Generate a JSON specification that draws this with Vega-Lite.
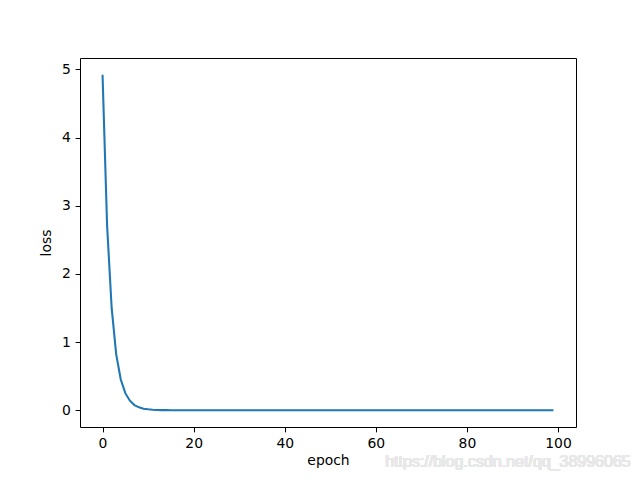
{
  "$schema": "https://vega.github.io/schema/vega-lite/v6.json",
  "width": 496,
  "height": 369,
  "autosize": "none",
  "padding": {"left": 80, "top": 58, "right": 64, "bottom": 53},
  "background": "white",
  "config": {
    "view": {"stroke": "black", "strokeWidth": 1},
    "font": "DejaVu Sans",
    "axis": {
      "grid": false,
      "domain": false,
      "tickColor": "black",
      "tickSize": 4.86,
      "tickWidth": 1,
      "labelFont": "DejaVu Sans",
      "labelFontSize": 13.9,
      "labelColor": "black",
      "labelPadding": 4.86,
      "titleFont": "DejaVu Sans",
      "titleFontSize": 13.9,
      "titleFontWeight": "normal",
      "titleColor": "black"
    }
  },
  "data": {
    "values": [
      {"epoch": 0, "loss": 4.92}, {"epoch": 1, "loss": 2.71}, {"epoch": 2, "loss": 1.5}, {"epoch": 3, "loss": 0.82},
      {"epoch": 4, "loss": 0.45}, {"epoch": 5, "loss": 0.25}, {"epoch": 6, "loss": 0.14}, {"epoch": 7, "loss": 0.075},
      {"epoch": 8, "loss": 0.042}, {"epoch": 9, "loss": 0.023}, {"epoch": 10, "loss": 0.013}, {"epoch": 11, "loss": 0.007},
      {"epoch": 12, "loss": 0.004}, {"epoch": 13, "loss": 0.002}, {"epoch": 14, "loss": 0.001}, {"epoch": 15, "loss": 0.0006},
      {"epoch": 16, "loss": 0.0003}, {"epoch": 17, "loss": 0.0002}, {"epoch": 18, "loss": 0.0001}, {"epoch": 19, "loss": 0.0001},
      {"epoch": 20, "loss": 0}, {"epoch": 21, "loss": 0}, {"epoch": 22, "loss": 0}, {"epoch": 23, "loss": 0},
      {"epoch": 24, "loss": 0}, {"epoch": 25, "loss": 0}, {"epoch": 26, "loss": 0}, {"epoch": 27, "loss": 0},
      {"epoch": 28, "loss": 0}, {"epoch": 29, "loss": 0}, {"epoch": 30, "loss": 0}, {"epoch": 31, "loss": 0},
      {"epoch": 32, "loss": 0}, {"epoch": 33, "loss": 0}, {"epoch": 34, "loss": 0}, {"epoch": 35, "loss": 0},
      {"epoch": 36, "loss": 0}, {"epoch": 37, "loss": 0}, {"epoch": 38, "loss": 0}, {"epoch": 39, "loss": 0},
      {"epoch": 40, "loss": 0}, {"epoch": 41, "loss": 0}, {"epoch": 42, "loss": 0}, {"epoch": 43, "loss": 0},
      {"epoch": 44, "loss": 0}, {"epoch": 45, "loss": 0}, {"epoch": 46, "loss": 0}, {"epoch": 47, "loss": 0},
      {"epoch": 48, "loss": 0}, {"epoch": 49, "loss": 0}, {"epoch": 50, "loss": 0}, {"epoch": 51, "loss": 0},
      {"epoch": 52, "loss": 0}, {"epoch": 53, "loss": 0}, {"epoch": 54, "loss": 0}, {"epoch": 55, "loss": 0},
      {"epoch": 56, "loss": 0}, {"epoch": 57, "loss": 0}, {"epoch": 58, "loss": 0}, {"epoch": 59, "loss": 0},
      {"epoch": 60, "loss": 0}, {"epoch": 61, "loss": 0}, {"epoch": 62, "loss": 0}, {"epoch": 63, "loss": 0},
      {"epoch": 64, "loss": 0}, {"epoch": 65, "loss": 0}, {"epoch": 66, "loss": 0}, {"epoch": 67, "loss": 0},
      {"epoch": 68, "loss": 0}, {"epoch": 69, "loss": 0}, {"epoch": 70, "loss": 0}, {"epoch": 71, "loss": 0},
      {"epoch": 72, "loss": 0}, {"epoch": 73, "loss": 0}, {"epoch": 74, "loss": 0}, {"epoch": 75, "loss": 0},
      {"epoch": 76, "loss": 0}, {"epoch": 77, "loss": 0}, {"epoch": 78, "loss": 0}, {"epoch": 79, "loss": 0},
      {"epoch": 80, "loss": 0}, {"epoch": 81, "loss": 0}, {"epoch": 82, "loss": 0}, {"epoch": 83, "loss": 0},
      {"epoch": 84, "loss": 0}, {"epoch": 85, "loss": 0}, {"epoch": 86, "loss": 0}, {"epoch": 87, "loss": 0},
      {"epoch": 88, "loss": 0}, {"epoch": 89, "loss": 0}, {"epoch": 90, "loss": 0}, {"epoch": 91, "loss": 0},
      {"epoch": 92, "loss": 0}, {"epoch": 93, "loss": 0}, {"epoch": 94, "loss": 0}, {"epoch": 95, "loss": 0},
      {"epoch": 96, "loss": 0}, {"epoch": 97, "loss": 0}, {"epoch": 98, "loss": 0}, {"epoch": 99, "loss": 0}
    ]
  },
  "layer": [
    {
      "mark": {"type": "line", "color": "#1f77b4", "strokeWidth": 2.08},
      "encoding": {
        "x": {
          "field": "epoch", "type": "quantitative", "title": "epoch",
          "scale": {"domain": [-4.95, 103.95], "nice": false, "zero": false},
          "axis": {"values": [0, 20, 40, 60, 80, 100], "format": "d", "titlePadding": 3}
        },
        "y": {
          "field": "loss", "type": "quantitative", "title": "loss",
          "scale": {"domain": [-0.246, 5.166], "nice": false, "zero": false},
          "axis": {"values": [0, 1, 2, 3, 4, 5], "format": "d", "titlePadding": 8}
        }
      }
    },
    {
      "mark": {"type": "text", "text": "https://blog.csdn.net/qq_38996065", "color": "#e8e8e8", "font": "Liberation Sans", "fontSize": 16, "align": "center", "baseline": "middle", "clip": false},
      "encoding": {
        "x": {"datum": 89, "type": "quantitative"},
        "y": {"datum": -0.76, "type": "quantitative"}
      }
    }
  ]
}
